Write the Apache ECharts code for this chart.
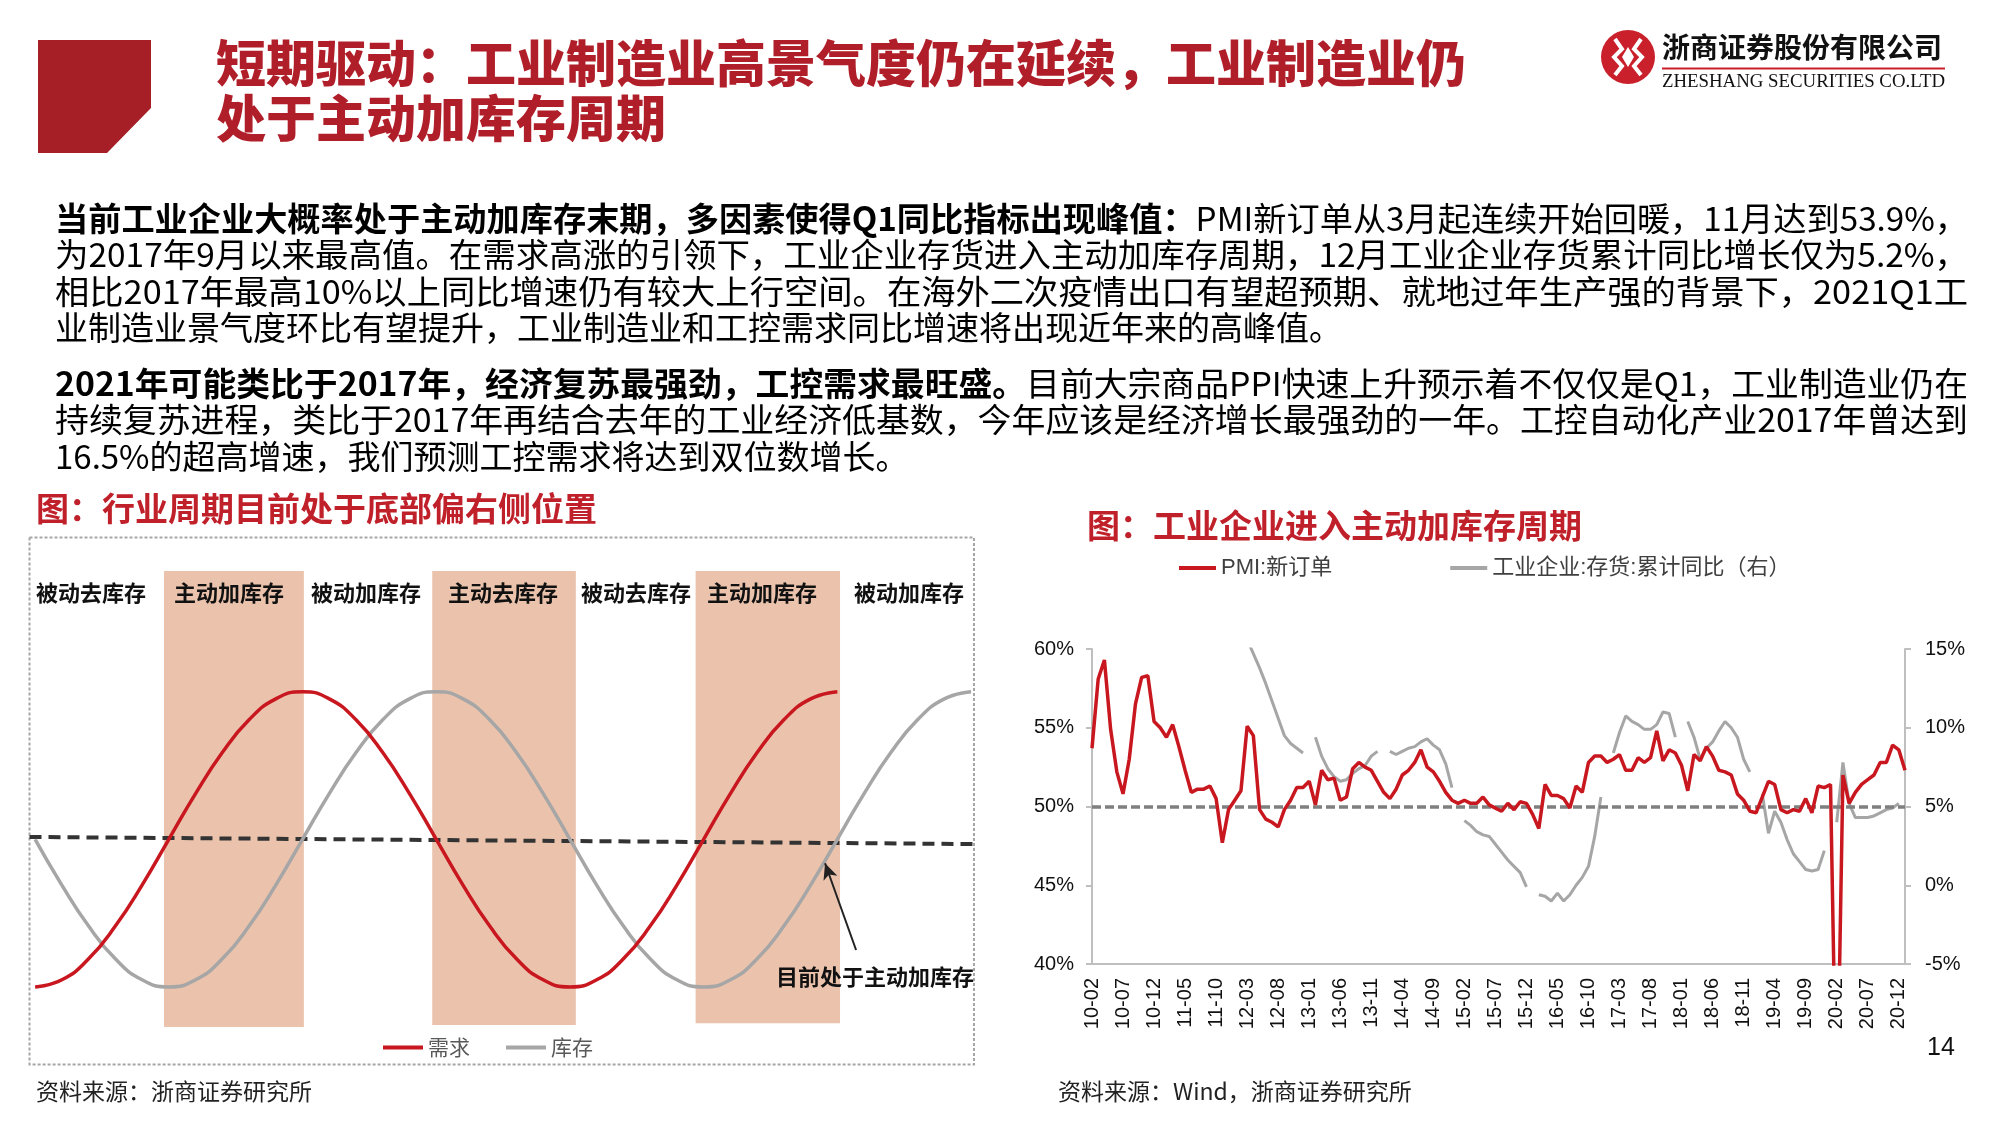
<!DOCTYPE html>
<html>
<head>
<meta charset="utf-8">
<title>工业企业进入主动加库存周期</title>
<script src="https://cdn.jsdelivr.net/npm/echarts@6/dist/echarts.min.js"></script>
<style>
  html, body { margin: 0; padding: 0; background: #fff; }
  #main { width: 2000px; height: 1125px; }
</style>
</head>
<body>
<div id="main"></div>
<script>
// ---- 左图：库存周期示意（横轴为半周期=10的相位单位）----
var cycleX = [0,1,2,3,4,5,6,7,8,9,10,11,12,13,14,15,16,17,18,19,20,21,22,23,24,25,26,27,28,29,30,31,32,33,34,35];
var demand = [0,2.4,9.5,20.6,34.5,50,65.5,79.4,90.5,97.6,100,97.6,90.5,79.4,65.5,50,34.5,20.6,9.5,2.4,0,2.4,9.5,20.6,34.5,50,65.5,79.4,90.5,97.6,100];
var stock = [50,34.5,20.6,9.5,2.4,0,2.4,9.5,20.6,34.5,50,65.5,79.4,90.5,97.6,100,97.6,90.5,79.4,65.5,50,34.5,20.6,9.5,2.4,0,2.4,9.5,20.6,34.5,50,65.5,79.4,90.5,97.6,100];
var midLine = [[-0.21, 50.8], [35.11, 48.4]];
var activeBands = [[4.82, 10.05], [14.85, 20.22], [24.7, 30.1]];
var phaseNames = ['被动去库存','主动加库存','被动加库存','主动去库存','被动去库存','主动加库存','被动加库存'];

// ---- 右图：PMI新订单 与 工业企业存货累计同比 ----
var months = [
  '10-02','10-03','10-04','10-05','10-06','10-07','10-08','10-09','10-10','10-11','10-12',
  '11-01','11-02','11-03','11-04','11-05','11-06','11-07','11-08','11-09','11-10','11-11','11-12',
  '12-01','12-02','12-03','12-04','12-05','12-06','12-07','12-08','12-09','12-10','12-11','12-12',
  '13-01','13-02','13-03','13-04','13-05','13-06','13-07','13-08','13-09','13-10','13-11','13-12',
  '14-01','14-02','14-03','14-04','14-05','14-06','14-07','14-08','14-09','14-10','14-11','14-12',
  '15-01','15-02','15-03','15-04','15-05','15-06','15-07','15-08','15-09','15-10','15-11','15-12',
  '16-01','16-02','16-03','16-04','16-05','16-06','16-07','16-08','16-09','16-10','16-11','16-12',
  '17-01','17-02','17-03','17-04','17-05','17-06','17-07','17-08','17-09','17-10','17-11','17-12',
  '18-01','18-02','18-03','18-04','18-05','18-06','18-07','18-08','18-09','18-10','18-11','18-12',
  '19-01','19-02','19-03','19-04','19-05','19-06','19-07','19-08','19-09','19-10','19-11','19-12',
  '20-01','20-02','20-03','20-04','20-05','20-06','20-07','20-08','20-09','20-10','20-11','20-12',
  '21-01'
];
var pmiNewOrders = [
  53.7,58.1,59.3,54.9,52.2,50.8,53.0,56.5,58.2,58.3,55.4,
  55.0,54.4,55.2,53.8,52.3,50.9,51.1,51.1,51.3,50.5,47.7,49.8,
  50.4,51.0,55.1,54.5,49.8,49.2,49.0,48.7,49.8,50.4,51.2,51.2,
  51.6,50.1,52.3,51.7,51.8,50.4,50.6,52.4,52.8,52.5,52.3,51.6,
  50.9,50.5,51.1,52.0,52.3,52.8,53.6,52.5,52.2,51.6,50.9,50.4,
  50.2,50.4,50.2,50.2,50.6,50.1,49.9,49.7,50.2,49.8,50.3,50.2,
  49.5,48.6,51.4,50.7,50.7,50.5,49.9,51.3,50.9,52.8,53.2,53.2,
  52.8,53.0,53.3,52.3,52.3,53.1,52.8,53.1,54.8,52.9,53.6,53.4,
  52.6,51.0,53.3,52.9,53.8,53.2,52.3,52.2,52.0,50.8,50.4,49.7,
  49.6,50.6,51.6,51.4,49.8,49.6,49.8,49.7,50.5,49.6,51.3,51.2,
  51.4,29.3,52.0,50.2,50.9,51.4,51.7,52.0,52.8,52.8,53.9,53.6,
  52.3
];
var inventoryYoY = [
  null,null,null,null,null,null,null,null,null,null,null,
  null,null,null,null,null,null,null,null,null,null,null,null,
  null,null,15.6,14.7,13.8,12.8,11.7,10.6,9.5,9.0,8.7,8.4,
  null,9.4,8.2,7.4,6.9,6.6,6.7,7.1,7.4,7.6,8.2,8.5,
  null,8.5,8.3,8.5,8.7,8.8,9.1,9.3,8.9,8.6,7.7,6.2,
  null,4.1,3.8,3.4,3.2,3.1,2.6,2.1,1.6,1.2,0.8,-0.1,
  null,-0.6,-0.7,-1.0,-0.5,-1.0,-0.6,0.0,0.5,1.2,3.1,5.6,
  null,8.4,9.7,10.75,10.4,10.2,9.9,9.9,10.2,11.0,10.9,9.4,
  null,10.4,9.4,8.0,8.7,9.1,9.8,10.4,10.0,9.4,8.0,7.2,
  null,5.8,3.3,4.7,4.0,2.9,2.0,1.5,1.0,0.9,1.0,2.2,
  null,4.0,7.8,5.2,4.3,4.3,4.3,4.4,4.6,4.8,4.9,5.2,
  null
];
var leftTicks = [40, 45, 50, 55, 60];
var rightTicks = [-5, 0, 5, 10, 15];

// ---- 正文 ----
var para1 = [
  { segs: [['当前工业企业大概率处于主动加库存末期，多因素使得Q1同比指标出现峰值：', true], ['PMI新订单从3月起连续开始回暖，11月达到53.9%，', false]], justify: true },
  { segs: [['为2017年9月以来最高值。在需求高涨的引领下，工业企业存货进入主动加库存周期，12月工业企业存货累计同比增长仅为5.2%，', false]], justify: true },
  { segs: [['相比2017年最高10%以上同比增速仍有较大上行空间。在海外二次疫情出口有望超预期、就地过年生产强的背景下，2021Q1工', false]], justify: true },
  { segs: [['业制造业景气度环比有望提升，工业制造业和工控需求同比增速将出现近年来的高峰值。', false]], justify: false }
];
var para2 = [
  { segs: [['2021年可能类比于2017年，经济复苏最强劲，工控需求最旺盛。', true], ['目前大宗商品PPI快速上升预示着不仅仅是Q1，工业制造业仍在', false]], justify: true },
  { segs: [['持续复苏进程，类比于2017年再结合去年的工业经济低基数，今年应该是经济增长最强劲的一年。工控自动化产业2017年曾达到', false]], justify: true },
  { segs: [['16.5%的超高增速，我们预测工控需求将达到双位数增长。', false]], justify: false }
];

var CJK = '"Noto Sans CJK SC", "Noto Sans", sans-serif';
var LATIN = '"Liberation Sans", Arial, "Noto Sans CJK SC", sans-serif';
var RED = '#C8171F';
var GREY = '#A6A6A6';

var measureCtx = document.createElement('canvas').getContext('2d');
function textWidth(txt, font) {
  measureCtx.font = font;
  return measureCtx.measureText(txt).width;
}

var graphics = [];

// 标题色块
graphics.push({
  type: 'polygon',
  shape: { points: [[38, 40], [151, 40], [151, 108], [107, 153], [38, 153]] },
  style: { fill: '#A61F26' }
});
graphics.push({
  type: 'text', x: 216, y: 63,
  style: { text: '短期驱动：工业制造业高景气度仍在延续，工业制造业仍', font: '900 50px ' + CJK, fill: '#B01F29', verticalAlign: 'middle' }
});
graphics.push({
  type: 'text', x: 216, y: 118,
  style: { text: '处于主动加库存周期', font: '900 50px ' + CJK, fill: '#B01F29', verticalAlign: 'middle' }
});

// 公司标识
graphics.push({ type: 'circle', shape: { cx: 1628, cy: 57, r: 27 }, style: { fill: '#C9202B' } });
graphics.push({
  type: 'polyline',
  shape: { points: [[1615, 39], [1622, 49], [1614, 57], [1622, 66], [1615, 75]] },
  style: { stroke: '#fff', lineWidth: 4, fill: null }
});
graphics.push({
  type: 'polyline',
  shape: { points: [[1641, 39], [1634, 49], [1642, 57], [1634, 66], [1641, 75]] },
  style: { stroke: '#fff', lineWidth: 4, fill: null }
});
graphics.push({
  type: 'polygon',
  shape: { points: [[1628, 47], [1634, 57], [1628, 67], [1622, 57]] },
  style: { fill: '#fff' }
});
graphics.push({
  type: 'text', x: 1662, y: 47,
  style: { text: '浙商证券股份有限公司', font: 'bold 28px ' + CJK, fill: '#111', verticalAlign: 'middle' }
});
graphics.push({ type: 'line', shape: { x1: 1662, y1: 68.5, x2: 1945, y2: 68.5 }, style: { stroke: '#C9202B', lineWidth: 2 } });
var enFont = '19px "Liberation Serif", serif';
var enText = 'ZHESHANG SECURITIES CO.LTD';
graphics.push({
  type: 'text', x: 1662, y: 82, scaleX: 283 / textWidth(enText, enFont),
  style: { text: enText, font: enFont, fill: '#111', verticalAlign: 'middle' }
});

// 正文段落
var bodyLeft = 55, bodyRight = 1968, bodySize = 33;
function addParagraph(lines, y0) {
  lines.forEach(function (line, k) {
    var y = y0 + k * 36.3;
    var widths = line.segs.map(function (s) {
      return textWidth(s[0], (s[1] ? 'bold ' : '') + bodySize + 'px ' + CJK);
    });
    var total = widths.reduce(function (a, b) { return a + b; }, 0);
    var sx = line.justify ? (bodyRight - bodyLeft) / total : 1;
    var x = bodyLeft;
    line.segs.forEach(function (s, j) {
      graphics.push({
        type: 'text', x: x, y: y, scaleX: sx,
        style: { text: s[0], font: (s[1] ? 'bold ' : '') + bodySize + 'px ' + CJK, fill: '#000', verticalAlign: 'middle' }
      });
      x += widths[j] * sx;
    });
  });
}
addParagraph(para1, 218.5);
addParagraph(para2, 383.5);

// 图标题
graphics.push({
  type: 'text', x: 36, y: 508,
  style: { text: '图：行业周期目前处于底部偏右侧位置', font: 'bold 33px ' + CJK, fill: '#C0202A', verticalAlign: 'middle' }
});
graphics.push({
  type: 'text', x: 1087, y: 525,
  style: { text: '图：工业企业进入主动加库存周期', font: 'bold 33px ' + CJK, fill: '#C0202A', verticalAlign: 'middle' }
});

// 左图虚线边框
graphics.push({
  type: 'rect', shape: { x: 29.5, y: 537.4, width: 944.5, height: 527.1 },
  style: { fill: null, stroke: '#A6A6A6', lineWidth: 2, lineDash: [3, 2] }, z: 0
});
// 阶段标签
var phaseCenters = [91, 229, 366, 503, 636, 762, 909];
phaseNames.forEach(function (name, i) {
  graphics.push({
    type: 'text', x: phaseCenters[i], y: 593, z: 10,
    style: { text: name, font: 'bold 22px ' + CJK, fill: '#111', align: 'center', verticalAlign: 'middle' }
  });
});
graphics.push({
  type: 'text', x: 875, y: 977, z: 10,
  style: { text: '目前处于主动加库存', font: 'bold 22px ' + CJK, fill: '#111', align: 'center', verticalAlign: 'middle' }
});

// 资料来源与页码
graphics.push({
  type: 'text', x: 36, y: 1091,
  style: { text: '资料来源：浙商证券研究所', font: '23px ' + CJK, fill: '#222', verticalAlign: 'middle' }
});
graphics.push({
  type: 'text', x: 1058, y: 1091,
  style: { text: '资料来源：Wind，浙商证券研究所', font: '23px ' + CJK, fill: '#222', verticalAlign: 'middle' }
});
graphics.push({
  type: 'text', x: 1941, y: 1048,
  style: { text: '14', font: '25px "Liberation Sans", Arial, sans-serif', fill: '#111', align: 'center', verticalAlign: 'middle' }
});

var chart = echarts.init(document.getElementById('main'));

var option = {
  backgroundColor: '#fff',
  animation: false,
  textStyle: { fontFamily: CJK },
  legend: [
    {
      data: ['需求', '库存'],
      left: 378, top: 1032,
      icon: 'rect', itemWidth: 40, itemHeight: 4, itemGap: 36,
      selectedMode: false,
      textStyle: { fontSize: 21, color: '#595959', fontFamily: CJK }
    },
    {
      data: ['PMI:新订单', '工业企业:存货:累计同比（右）'],
      left: 1174, top: 552,
      icon: 'rect', itemWidth: 37, itemHeight: 4, itemGap: 118,
      selectedMode: false,
      textStyle: { fontSize: 22, color: '#404040', fontFamily: LATIN }
    }
  ],
  grid: [
    { left: 29.5, top: 537.4, width: 944.5, height: 527.1 },
    { left: 1092, top: 649, width: 813, height: 315 }
  ],
  xAxis: [
    { gridIndex: 0, type: 'value', min: -0.21, max: 35.11, show: false },
    {
      gridIndex: 1, type: 'category', data: months, boundaryGap: false,
      axisLine: { onZero: false, lineStyle: { color: '#BFBFBF', width: 2 } },
      axisTick: { show: false },
      axisLabel: { interval: 4, rotate: 90, margin: 14, fontSize: 20, color: '#111', fontFamily: LATIN },
      splitLine: { show: false }
    }
  ],
  yAxis: [
    { gridIndex: 0, type: 'value', min: -26.3, max: 152.3, show: false },
    {
      gridIndex: 1, type: 'value', position: 'left', min: leftTicks[0], max: leftTicks[leftTicks.length - 1], interval: 5,
      axisLine: { show: true, onZero: false, lineStyle: { color: '#BFBFBF', width: 2 } },
      axisTick: { show: true, length: 6, lineStyle: { color: '#BFBFBF', width: 2 } },
      axisLabel: { margin: 18, fontSize: 20, color: '#111', fontFamily: LATIN, formatter: '{value}%' },
      splitLine: { show: false }
    },
    {
      gridIndex: 1, type: 'value', position: 'right', min: rightTicks[0], max: rightTicks[rightTicks.length - 1], interval: 5,
      axisLine: { show: true, onZero: false, lineStyle: { color: '#BFBFBF', width: 2 } },
      axisTick: { show: true, length: 6, lineStyle: { color: '#BFBFBF', width: 2 } },
      axisLabel: { margin: 20, fontSize: 20, color: '#111', fontFamily: LATIN, formatter: '{value}%' },
      splitLine: { show: false }
    }
  ],
  series: [
    {
      name: 'bands', type: 'line', xAxisIndex: 0, yAxisIndex: 0, data: [], z: 1,
      markArea: {
        silent: true,
        itemStyle: { color: '#EBC3AC' },
        data: activeBands.map(function (b, i) {
          var bottom = [-13.6, -12.9, -12.3][i];
          return [{ coord: [b[0], 140.9] }, { coord: [b[1], bottom] }];
        })
      }
    },
    {
      name: 'mid', type: 'line', xAxisIndex: 0, yAxisIndex: 0, z: 3,
      data: midLine, symbol: 'none', silent: true,
      lineStyle: { color: '#333', width: 4, type: [12, 7] }
    },
    {
      name: '库存', type: 'line', xAxisIndex: 0, yAxisIndex: 0, z: 4,
      data: stock.map(function (v, i) { return [cycleX[i], v]; }),
      smooth: true, symbol: 'none',
      itemStyle: { color: GREY }, lineStyle: { color: GREY, width: 3.5 },
      markLine: {
        silent: true, symbol: ['none', 'arrow'], symbolSize: [11, 16],
        label: { show: false },
        lineStyle: { color: '#222', width: 2, type: 'solid' },
        data: [[{ coord: [30.7, 12.5] }, { coord: [29.54, 41.9] }]]
      }
    },
    {
      name: '需求', type: 'line', xAxisIndex: 0, yAxisIndex: 0, z: 5,
      data: demand.map(function (v, i) { return [cycleX[i], v]; }),
      smooth: true, symbol: 'none',
      itemStyle: { color: RED }, lineStyle: { color: RED, width: 3.5 }
    },
    {
      name: 'PMI:新订单', type: 'line', xAxisIndex: 1, yAxisIndex: 1, z: 5,
      data: pmiNewOrders, symbol: 'none', clip: true,
      itemStyle: { color: RED }, lineStyle: { color: RED, width: 3.5 },
      markLine: {
        silent: true, symbol: 'none', label: { show: false },
        lineStyle: { color: '#7F7F7F', width: 3.5, type: [9, 4] },
        data: [{ yAxis: 50 }]
      }
    },
    {
      name: '工业企业:存货:累计同比（右）', type: 'line', xAxisIndex: 1, yAxisIndex: 2, z: 4,
      data: inventoryYoY, symbol: 'none', clip: true, connectNulls: false,
      itemStyle: { color: GREY }, lineStyle: { color: GREY, width: 3 }
    }
  ],
  graphic: graphics
};
chart.setOption(option);
</script>
</body>
</html>
